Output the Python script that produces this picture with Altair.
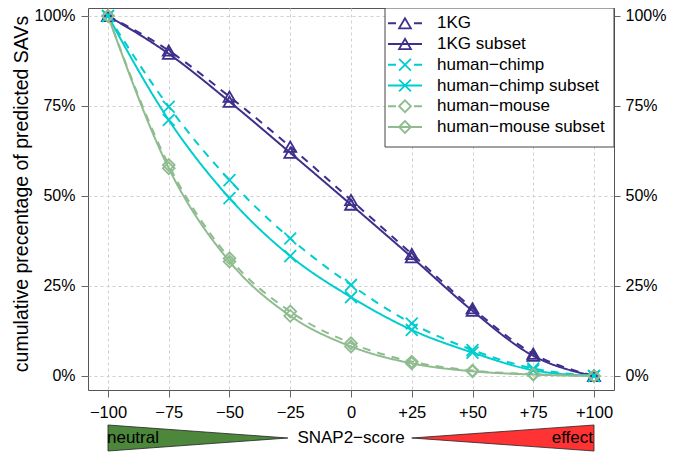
import altair as alt
import pandas as pd

# ---------------- data ----------------
x_scores = [-100, -75, -50, -25, 0, 25, 50, 75, 100]

kg = [100, 90.4, 77.6, 63.7, 48.9, 33.9, 18.8, 6.2, 0]
kg_subset = [100, 89.5, 76.2, 62.0, 47.6, 33.0, 18.1, 5.6, 0]
chimp = [100, 74.8, 54.4, 38.2, 25.3, 14.6, 7.2, 2.1, 0]
chimp_subset = [100, 71.1, 49.4, 33.3, 21.9, 12.8, 6.5, 1.6, 0]
mouse = [100, 58.6, 32.7, 17.9, 9.1, 4.0, 1.5, 0.5, 0]
mouse_subset = [100, 57.7, 31.8, 16.7, 8.2, 3.5, 1.3, 0.4, 0]

series_names = ["1KG", "1KG subset", "human−chimp", "human−chimp subset",
                "human−mouse", "human−mouse subset"]
series_values = [kg, kg_subset, chimp, chimp_subset, mouse, mouse_subset]
series_dashed = [True, False, True, False, True, False]

x_tick_values = [-100, -75, -50, -25, 0, 25, 50, 75, 100]
x_tick_labels = ["−100", "−75", "−50", "−25", "0", "+25", "+50", "+75", "+100"]
y_tick_values = [0, 25, 50, 75, 100]
y_tick_labels = ["0%", "25%", "50%", "75%", "100%"]

y_title = "cumulative precentage of predicted SAVs"
x_title = "SNAP2−score"
neutral_label = "neutral"
effect_label = "effect"
neutral_x = [-100, -26]
effect_x = [25, 100]

# ---------------- styles ----------------
FONT = "Liberation Sans"
series_colors = ["#3d2f8c", "#3d2f8c", "#00cdcd", "#00cdcd", "#8fbc8f", "#8fbc8f"]
x_mark = "M-1,-1L1,1M-1,1L1,-1"
series_shapes = ["triangle-up", "triangle-up", x_mark, x_mark, "diamond", "diamond"]
series_sizes = [140, 140, 80, 80, 110, 110]
series_dashes = [[8, 7] if d else [1, 0] for d in series_dashed]

rows = []
for name, vals in zip(series_names, series_values):
    for xv, yv in zip(x_scores, vals):
        rows.append({"series": name, "x": xv, "pct": yv})
df = pd.DataFrame(rows)


def label_expr(values, labels):
    expr = "''"
    for v, l in reversed(list(zip(values, labels))):
        expr = f"datum.value == {v} ? '{l}' : ({expr})"
    return expr


x_scale = alt.Scale(domain=[-108.23, 108.23], nice=False, zero=False)
y_scale = alt.Scale(domain=[-3.89, 102.22], nice=False, zero=False)

x_axis = alt.Axis(values=x_tick_values, labelExpr=label_expr(x_tick_values, x_tick_labels),
                  title=None, grid=True, tickSize=7, labelPadding=7, labelFontSize=16.5)
x_enc = alt.X("x:Q", scale=x_scale, axis=x_axis)

color_enc = alt.Color("series:N", scale=alt.Scale(domain=series_names, range=series_colors),
                      legend=None)
shape_enc = alt.Shape("series:N", scale=alt.Scale(domain=series_names, range=series_shapes),
                      legend=None)
size_enc = alt.Size("series:N", scale=alt.Scale(domain=series_names, range=series_sizes),
                    legend=None)

y_left = alt.Y("pct:Q", scale=y_scale,
               axis=alt.Axis(values=y_tick_values,
                             labelExpr=label_expr(y_tick_values, y_tick_labels),
                             grid=True, tickSize=7, labelPadding=6,
                             title=y_title, titleFontSize=19.5, titleX=-61, titleY=185.5,
                             titleAngle=-90, titleBaseline="alphabetic"))

lines = alt.Chart(df).mark_line(interpolate="monotone", strokeWidth=2).encode(
    x=x_enc, y=y_left, color=color_enc,
    strokeDash=alt.StrokeDash("series:N",
                              scale=alt.Scale(domain=series_names, range=series_dashes),
                              legend=None),
)
points = alt.Chart(df).mark_point(filled=False, strokeWidth=1.8, opacity=1).encode(
    x=x_enc, y=y_left, color=color_enc, shape=shape_enc, size=size_enc
)
main = alt.layer(lines, points)

# right-hand axis
right_axis = alt.Chart(pd.DataFrame({"v": y_tick_values})).mark_rule(strokeOpacity=0).encode(
    y=alt.Y("v:Q", scale=y_scale,
            axis=alt.Axis(orient="right", values=y_tick_values,
                          labelExpr=label_expr(y_tick_values, y_tick_labels),
                          grid=False, tickSize=6, labelPadding=5, title=None))
)

# legend (drawn inside the plot)
legend_df = pd.DataFrame({"series": series_names, "idx": list(range(len(series_names))),
                          "dashed": series_dashed})
leg_y = alt.Y("idx:Q", scale=alt.Scale(domain=[0, 5], range=[15.3, 119]), axis=None)
box = alt.Chart(pd.DataFrame({"a": [0]})).mark_rect(fill="white", stroke="#444",
                                                     strokeWidth=1).encode(
    x=alt.value(297), x2=alt.value(526), y=alt.value(0), y2=alt.value(139))
dash_rules = alt.Chart(legend_df).transform_filter("datum.dashed").mark_rule(
    strokeWidth=2, strokeDash=[8, 18]).encode(
    x=alt.value(300), x2=alt.value(334), y=leg_y, color=color_enc)
solid_rules = alt.Chart(legend_df).transform_filter("!datum.dashed").mark_rule(
    strokeWidth=2).encode(
    x=alt.value(300), x2=alt.value(334), y=leg_y, color=color_enc)
leg_points = alt.Chart(legend_df).mark_point(filled=False, strokeWidth=1.8, opacity=1).encode(
    x=alt.value(317), y=leg_y, color=color_enc, shape=shape_enc, size=size_enc)
leg_text = alt.Chart(legend_df).mark_text(align="left", baseline="middle", fontSize=17,
                                          font=FONT, color="black").encode(
    x=alt.value(349), y=leg_y, text="series:N")
legend_layer = alt.layer(box, dash_rules, solid_rules, leg_points, leg_text)

# neutral / effect bar under the axis
bar_y_scale = alt.Scale(domain=[0, 1], range=[417, 443])
green_df = pd.DataFrame({"x": neutral_x, "top": [0, 0.5], "bottom": [1, 0.5]})
red_df = pd.DataFrame({"x": effect_x, "top": [0.5, 0], "bottom": [0.5, 1]})
green = alt.Chart(green_df).mark_area(color="#4c873c", stroke="#222", strokeWidth=0.8).encode(
    x=x_enc, y=alt.Y("top:Q", scale=bar_y_scale, axis=None), y2="bottom:Q")
red = alt.Chart(red_df).mark_area(color="#ff3333", stroke="#222", strokeWidth=0.8).encode(
    x=x_enc, y=alt.Y("top:Q", scale=bar_y_scale, axis=None), y2="bottom:Q")


def bar_text(xv, label, align, dx):
    return alt.Chart(pd.DataFrame({"x": [xv], "top": [0.5], "label": [label]})).mark_text(
        align=align, baseline="middle", fontSize=17, font=FONT, color="black", dx=dx).encode(
        x=x_enc, y=alt.Y("top:Q", scale=bar_y_scale, axis=None), text="label:N")


bar_layer = alt.layer(green, red,
                      bar_text(neutral_x[0], neutral_label, "left", -1),
                      bar_text(0, x_title, "center", 0),
                      bar_text(effect_x[1], effect_label, "right", -1))

chart = alt.layer(main, right_axis, legend_layer, bar_layer).resolve_scale(
    y="independent"
).properties(
    width=526, height=382,
    padding={"left": 80, "top": 0, "right": 53, "bottom": 62},
    autosize="none",
).configure_view(
    stroke="#555", strokeWidth=1
).configure_axis(
    labelFont=FONT, labelFontSize=16, labelColor="black", labelFlush=False,
    tickColor="#666", tickWidth=1, domain=False,
    gridColor="#d0d0d0", gridDash=[3, 3], gridWidth=1,
    titleFont=FONT, titleFontWeight="normal", titleColor="black",
)

chart.save("out.html", embed_options={"renderer": "svg", "actions": False})
